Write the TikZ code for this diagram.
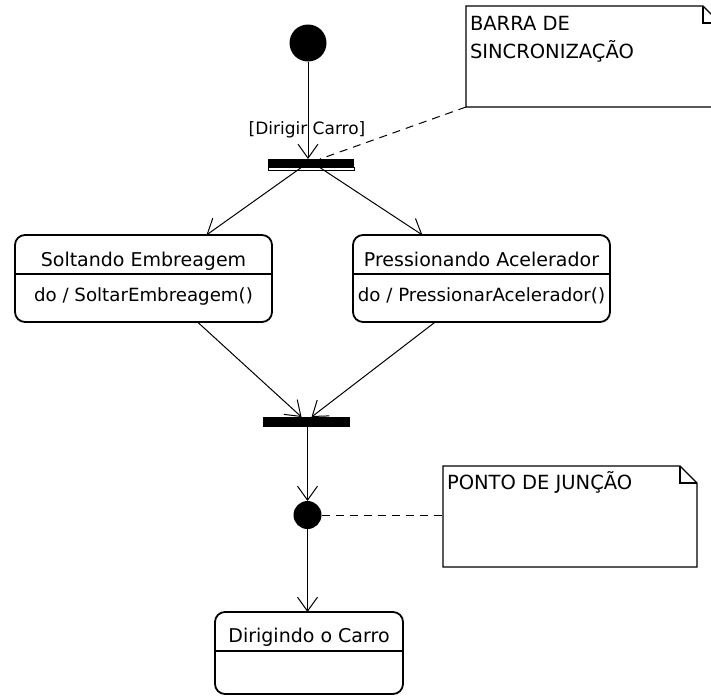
\documentclass[tikz,border=0pt]{standalone}
\usepackage{fontspec}
\setmainfont{DejaVu Sans}
\usetikzlibrary{arrows.meta,calc}

\begin{document}
\begin{tikzpicture}[x=1pt,y=-1pt,
  every node/.style={inner sep=0pt, outer sep=0pt},
  lbl/.style={font=\fontsize{18.2}{27}\selectfont, anchor=base},
  ttl/.style={font=\fontsize{19}{27}\selectfont, anchor=base},
  guardtxt/.style={font=\fontsize{17}{24}\selectfont, anchor=base},
  lblw/.style={font=\fontsize{19.5}{27}\selectfont, anchor=base west},
  statebox/.style={draw, line width=1.8pt, rounded corners=10pt},
  divider/.style={line width=1.3pt},
  bar/.style={fill=black},
  dot/.style={circle, fill=black},
  conn/.style={line width=1pt, -{Straight Barb[length=14pt,width=20pt]}},
  link/.style={line width=1pt, dash pattern=on 8pt off 6pt},
  notebody/.style={minimum width=254pt, minimum height=101pt},
  noteline/.style={line width=1.3pt},
]
\useasboundingbox (0,0) rectangle (711,696);

% initial state and fork bar
\node[dot, minimum size=37pt] (init) at (308,43) {};
\node[bar, minimum width=86pt, minimum height=8pt] (fork) at (311,163) {};
\node[draw, fill=white, line width=0.6pt, minimum width=86pt, minimum height=3pt, anchor=north] (forkstrip) at (fork.south) {};

% guard label
\node[guardtxt] (guard) at (307,134) {[Dirigir Carro]};

% parallel states
\node[statebox, minimum width=257pt, minimum height=87pt] (s1) at (143.5,278.5) {};
\draw[divider] (s1.west |- 0,274) -- (s1.east |- 0,274);
\node[ttl] (s1t) at (143.5,266) {Soltando Embreagem};
\node[lbl] (s1d) at (143.5,301) {do / SoltarEmbreagem()};

\node[statebox, minimum width=257pt, minimum height=87pt] (s2) at (481.5,278.5) {};
\draw[divider] (s2.west |- 0,274) -- (s2.east |- 0,274);
\node[ttl] (s2t) at (481.5,266) {Pressionando Acelerador};
\node[lbl] (s2d) at (481.5,301) {do / PressionarAcelerador()};

% join bar and junction point
\node[bar, minimum width=87pt, minimum height=10pt] (join) at (306.5,422) {};
\node[dot, minimum size=28pt] (jn) at (307.5,515) {};

% final state
\node[statebox, minimum width=188pt, minimum height=82pt] (s3) at (309,653) {};
\draw[divider] (s3.west |- 0,651) -- (s3.east |- 0,651);
\node[ttl] (s3t) at (309,642) {Dirigindo o Carro};

% notes
\node[notebody] (n1) at (593,56.5) {};
\draw[noteline, fill=white] (n1.south west) -- (n1.north west) -- ([xshift=-17pt]n1.north east)
  -- ([yshift=-17pt]n1.north east) -- (n1.south east) -- cycle;
\draw[noteline] ([xshift=-17pt]n1.north east) -- ([xshift=-17pt,yshift=-17pt]n1.north east)
  -- ([yshift=-17pt]n1.north east);
\node[lblw] (n1a) at (470,30) {BARRA DE};
\node[lblw] (n1b) at (470,58) {SINCRONIZAÇÃO};

\node[notebody] (n2) at (570,516.5) {};
\draw[noteline, fill=white] (n2.south west) -- (n2.north west) -- ([xshift=-17pt]n2.north east)
  -- ([yshift=-17pt]n2.north east) -- (n2.south east) -- cycle;
\draw[noteline] ([xshift=-17pt]n2.north east) -- ([xshift=-17pt,yshift=-17pt]n2.north east)
  -- ([yshift=-17pt]n2.north east);
\node[lblw] (n2a) at (447,489) {PONTO DE JUNÇÃO};

% transitions
\draw[conn] (init.south) -- (init |- fork.north);
\draw[conn] ([xshift=-9pt]fork.south) -- ($(s1.north west)!0.745!(s1.north east)$);
\draw[conn] ([xshift=8pt]fork.south) -- ($(s2.north west)!0.27!(s2.north east)$);
\draw[conn] ($(s1.south west)!0.71!(s1.south east)$) -- ([xshift=-5pt]join.north);
\draw[conn] ($(s2.south west)!0.32!(s2.south east)$) -- ([xshift=5pt]join.north);
\draw[conn] (jn |- join.south) -- (jn.north);
\draw[conn] (jn.south) -- (jn |- s3.north);

% note anchors
\draw[link] (n1.south west) -- ([xshift=9pt]fork.north);
\draw[link] (jn.east) -- (jn -| n2.west);
\end{tikzpicture}
\end{document}
